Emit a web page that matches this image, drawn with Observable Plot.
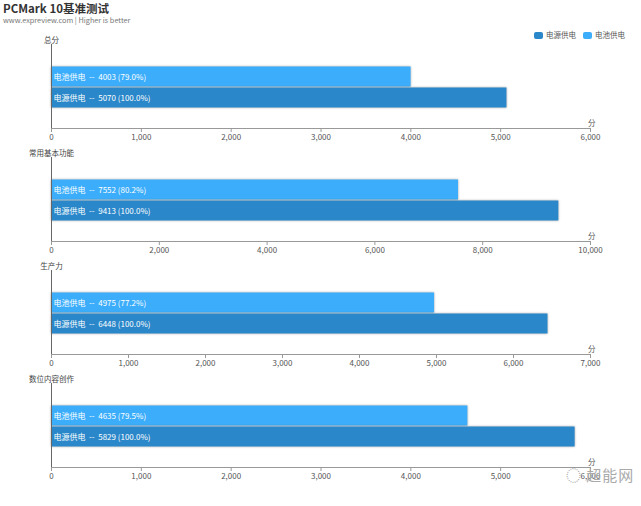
<!DOCTYPE html>
<html><head><meta charset="utf-8">
<script src="https://cdn.jsdelivr.net/npm/d3@7"></script>
<script src="https://cdn.jsdelivr.net/npm/@observablehq/plot@0.6"></script>
<style>
body{margin:0;background:#fff;font-family:"Noto Sans CJK SC","Noto Sans",sans-serif;}
#wrap{position:relative;width:641px;height:506px;overflow:hidden;}
#title{position:absolute;left:3px;top:2px;font-size:11.5px;line-height:12px;font-weight:bold;color:#333;}
#sub{position:absolute;left:3px;top:16px;font-size:7.3px;line-height:9px;color:#777;}
#legend{position:absolute;left:534px;top:30px;font-size:7.5px;line-height:10px;color:#555;display:flex;gap:7px;}
#legend span{display:flex;align-items:center;gap:3px;}
#legend i{display:inline-block;width:9px;height:7px;border-radius:2px;}
#panels{position:absolute;left:0;top:30px;}
#panels svg{display:block;}
g[aria-label="bar"] rect{filter:drop-shadow(0 0 1.2px rgba(0,0,0,0.35));}
#wm{position:absolute;left:566px;top:466px;font-size:15px;line-height:18px;color:#aaa;letter-spacing:1px;}
</style></head>
<body><div id="wrap">
<div id="title">PCMark 10基准测试</div>
<div id="sub">www.expreview.com | Higher is better</div>
<div id="legend"></div>
<div id="panels"></div>
<div id="wm">◌ 超能网</div>
</div>
<script>
const categories = ["总分","常用基本功能","生产力","数位内容创作"];
const seriesNames = ["电池供电","电源供电"];
const battery = [4003, 7552, 4975, 4635];
const power = [5070, 9413, 6448, 5829];
const batteryPct = ["79.0%","80.2%","77.2%","79.5%"];
const powerPct = ["100.0%","100.0%","100.0%","100.0%"];
const axisMax = [6000, 10000, 7000, 6000];
const axisTicks = [
  [0,1000,2000,3000,4000,5000,6000],
  [0,2000,4000,6000,8000,10000],
  [0,1000,2000,3000,4000,5000,6000,7000],
  [0,1000,2000,3000,4000,5000,6000]
];
const unit = "分";
const colors = {"电源供电":"#2a87c9","电池供电":"#3badfa"};

const legend = document.getElementById("legend");
["电源供电","电池供电"].forEach(n=>{
  const s=document.createElement("span");
  s.innerHTML=`<i style="background:${colors[n]}"></i>${n}`;
  legend.appendChild(s);
});

const font = '"Noto Sans CJK SC","Noto Sans",sans-serif';
const panels = document.getElementById("panels");
categories.forEach((cat,i)=>{
  const data = [
    {series:"电池供电", value:battery[i], pct:batteryPct[i]},
    {series:"电源供电", value:power[i], pct:powerPct[i]}
  ];
  const p = Plot.plot({
    width:641, height:113,
    marginLeft:51, marginRight:51, marginTop:14, marginBottom:15,
    style:{fontFamily:font, fontSize:"8px", color:"#555", background:"transparent"},
    x:{domain:[0,axisMax[i]], label:null},
    y:{domain:seriesNames, range:[36,78], padding:0, axis:null},
    color:{domain:Object.keys(colors), range:Object.values(colors)},
    marks:[
      Plot.barX(data,{x:"value", y:"series", fill:"series", insetTop:0.5, insetBottom:0.5}),
      Plot.text(data,{x:0, y:"series", text:d=>`${d.series}  --  ${d.value} (${d.pct})`, textAnchor:"start", dx:2, fill:"#fff", fontSize:8}),
      Plot.ruleX([0],{stroke:"#666"}),
      Plot.frame({anchor:"bottom", stroke:"#999"}),
      Plot.axisX({ticks:axisTicks[i], tickFormat:d3.format(","), tickSize:4, stroke:"#999", fill:"#555", tickPadding:2, fontSize:8}),
      Plot.text([cat],{frameAnchor:"top-left", dy:-7, textAnchor:"middle", fill:"#444", fontSize:7.5}),
      Plot.text([unit],{frameAnchor:"bottom-right", dx:5, dy:-3, fill:"#555", fontSize:7.5})
    ]
  });
  panels.appendChild(p);
});
</script>
</body></html>
